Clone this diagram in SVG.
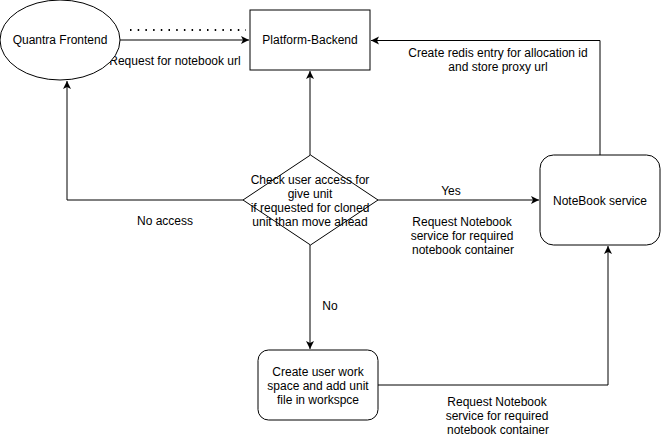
<svg xmlns="http://www.w3.org/2000/svg" width="661" height="441" viewBox="0 0 661 441">
<defs>
<style>
.s{fill:#fff;stroke:#000;stroke-width:1}
.l{fill:none;stroke:#000;stroke-width:1}
text{font-family:"Liberation Sans",Arial,sans-serif;font-size:12px;fill:#000;text-anchor:middle}
</style>
<marker id="a" markerWidth="10" markerHeight="10" refX="8" refY="4" orient="auto" markerUnits="userSpaceOnUse">
<path d="M0,0 L8,4 L0,8 L2,4 z" fill="#000"/>
</marker>
</defs>
<rect width="661" height="441" fill="#fff"/>
<g id="connectors">
<path class="l" d="M120,40 H249" marker-end="url(#a)"/>
<path d="M130,30 H246" fill="none" stroke="#000" stroke-width="2" stroke-dasharray="1.5 6.2"/>
<path class="l" d="M243,200 H67 V81" marker-end="url(#a)"/>
<path class="l" d="M310,155 V71" marker-end="url(#a)"/>
<path class="l" d="M378,200 H539" marker-end="url(#a)"/>
<path class="l" d="M600,155 V40.5 H371" marker-end="url(#a)"/>
<path class="l" d="M310,245 V349" marker-end="url(#a)"/>
<path class="l" d="M378,385 H608 V246" marker-end="url(#a)"/>
<text x="175" y="65">Request for notebook url</text>
<text x="165" y="225">No access</text>
<text x="451" y="195">Yes</text>
<text x="462" y="226">Request Notebook</text>
<text x="462" y="240">service for required</text>
<text x="463" y="254">notebook container</text>
<text x="498" y="57">Create redis entry for allocation id</text>
<text x="498" y="71">and store proxy url</text>
<text x="330" y="310">No</text>
<text x="497" y="406">Request Notebook</text>
<text x="497" y="420">service for required</text>
<text x="498" y="434">notebook container</text>
</g>
<g id="quantra-frontend">
<ellipse class="s" cx="60" cy="40" rx="60" ry="40"/>
<text x="60" y="44">Quantra Frontend</text>
</g>
<g id="platform-backend">
<rect class="s" x="250" y="10" width="120" height="60"/>
<text x="310" y="44">Platform-Backend</text>
</g>
<g id="check-access">
<path class="s" d="M310.5,155 L378,200 L310.5,245 L243,200 Z"/>
<text x="310" y="184">Check user access for</text>
<text x="310" y="198">give unit</text>
<text x="310" y="212">if requested for cloned</text>
<text x="310" y="226">unit than move ahead</text>
</g>
<g id="notebook-service">
<rect class="s" x="540" y="155" width="120" height="90" rx="13.5"/>
<text x="600" y="205">NoteBook service</text>
</g>
<g id="create-workspace">
<rect class="s" x="258" y="350" width="120" height="70" rx="10.5"/>
<text x="318" y="376">Create user work</text>
<text x="318" y="390">space and add unit</text>
<text x="318" y="404">file in workspce</text>
</g>
</svg>
